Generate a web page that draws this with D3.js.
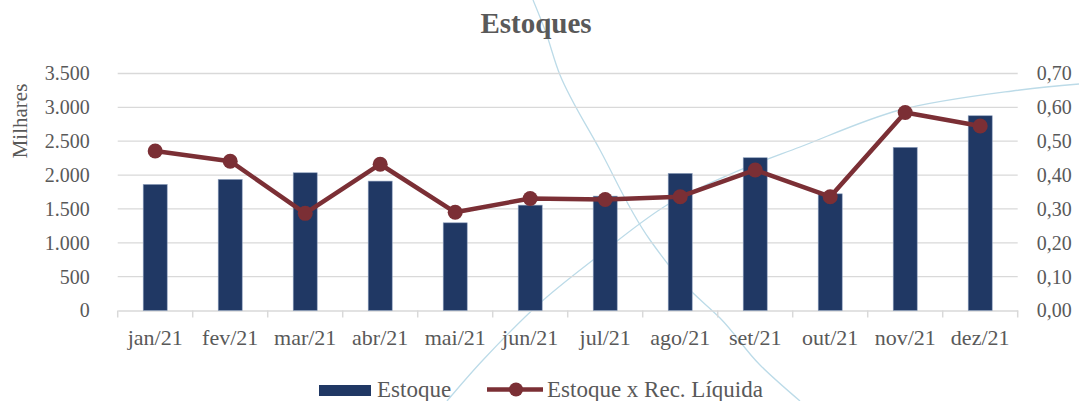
<!DOCTYPE html>
<html>
<head>
<meta charset="utf-8">
<script src="https://cdn.jsdelivr.net/npm/d3@7/dist/d3.min.js"></script>
<style>
  html, body { margin: 0; padding: 0; background: #ffffff; }
  svg { display: block; }
  text { font-family: "Liberation Serif", "DejaVu Serif", serif; fill: #595959; }
</style>
</head>
<body>
<svg id="chart" width="1079" height="401"></svg>
<script>
const categories = ["jan/21","fev/21","mar/21","abr/21","mai/21","jun/21","jul/21","ago/21","set/21","out/21","nov/21","dez/21"];
const estoque = [1862, 1936, 2034, 1911, 1295, 1556, 1689, 2025, 2256, 1723, 2409, 2876];
const ratio = [0.471, 0.441, 0.287, 0.432, 0.290, 0.331, 0.328, 0.336, 0.415, 0.336, 0.585, 0.545];
const leftTicks = [0, 500, 1000, 1500, 2000, 2500, 3000, 3500];
const rightTicks = [0, 0.1, 0.2, 0.3, 0.4, 0.5, 0.6, 0.7];
const seriesNames = ["Estoque", "Estoque x Rec. Líquida"];
const titleText = "Estoques";
const yAxisTitle = "Milhares";

// decorative background arcs (slide decoration)
const decoArcA = [[533,0],[545,30],[560,75],[600,150],[650,240],[690,290],[720,318],[760,365],[800,401]];
const decoArcB = [[447,401],[483,360],[540,303],[593,260],[667,205],[733,173],[800,147],[900,110],[1020,90],[1079,84]];

const FONT = "'Liberation Serif', 'DejaVu Serif', serif";
const svg = d3.select("#chart");
const plot = { left: 117.7, right: 1017.7, top: 73.5, bottom: 310.5 };

const loc = d3.formatLocale({ decimal: ",", thousands: ".", grouping: [3], currency: ["R$", ""] });
const fmtL = loc.format(",.0f");
const fmtR = loc.format(".2f");

const x = d3.scaleBand().domain(categories).range([plot.left, plot.right]).paddingInner(0.68).paddingOuter(0.34);
const yL = d3.scaleLinear().domain([0, 3500]).range([plot.bottom, plot.top]);
const yR = d3.scaleLinear().domain([0, 0.7]).range([plot.bottom, plot.top]);

// decorations
const deco = d3.line().curve(d3.curveMonotoneY);
svg.append("g").selectAll("path").data([decoArcA]).join("path")
  .attr("d", deco).attr("fill", "none").attr("stroke", "#bcdbe8").attr("stroke-width", 1.3);
svg.append("g").selectAll("path").data([decoArcB]).join("path")
  .attr("d", d3.line().curve(d3.curveCatmullRom)).attr("fill", "none").attr("stroke", "#bcdbe8").attr("stroke-width", 1.3);

// gridlines
svg.append("g").selectAll("line").data(leftTicks.slice(1)).join("line")
  .attr("x1", plot.left).attr("x2", plot.right)
  .attr("y1", d => yL(d)).attr("y2", d => yL(d))
  .attr("stroke", "#d9d9d9").attr("stroke-width", 1.3);

// left axis
const gL = svg.append("g").attr("transform", `translate(${plot.left},0)`)
  .call(d3.axisLeft(yL).tickValues(leftTicks).tickFormat(fmtL).tickSize(0).tickPadding(28));
gL.attr("font-family", FONT);
gL.select(".domain").remove();
gL.selectAll("text").attr("font-size", 20).attr("font-family", FONT).attr("fill", "#595959");

// right axis
const gR = svg.append("g").attr("transform", `translate(${plot.right},0)`)
  .call(d3.axisRight(yR).tickValues(rightTicks).tickFormat(fmtR).tickSize(0).tickPadding(19));
gR.attr("font-family", FONT);
gR.select(".domain").remove();
gR.selectAll("text").attr("font-size", 20).attr("font-family", FONT).attr("fill", "#595959");

// x axis
const gX = svg.append("g").attr("transform", `translate(0,${plot.bottom})`)
  .call(d3.axisBottom(x).tickSize(0).tickPadding(19));
gX.attr("font-family", FONT);
gX.select(".domain").attr("stroke", "#d9d9d9").attr("stroke-width", 1.5);
gX.selectAll("text").attr("font-size", 22).attr("font-family", FONT).attr("fill", "#595959");
const bounds = categories.map(c => x(c) - x.step() * x.paddingInner() / 2).concat([plot.right]);
svg.append("g").selectAll("line").data(bounds).join("line")
  .attr("x1", d => d).attr("x2", d => d).attr("y1", plot.bottom).attr("y2", plot.bottom + 7)
  .attr("stroke", "#d9d9d9").attr("stroke-width", 1.5);

// bars
svg.append("g").selectAll("rect").data(estoque).join("rect")
  .attr("x", (d, i) => x(categories[i])).attr("width", x.bandwidth())
  .attr("y", d => yL(d)).attr("height", d => yL(0) - yL(d))
  .attr("fill", "#203864").attr("stroke", "#8ea0bd").attr("stroke-width", 0.6);

// line
const cx = i => x(categories[i]) + x.bandwidth() / 2;
svg.append("path").datum(ratio)
  .attr("d", d3.line().x((d, i) => cx(i)).y(d => yR(d)))
  .attr("fill", "none").attr("stroke", "#7b2f35").attr("stroke-width", 4.5).attr("stroke-linejoin", "round");
svg.append("g").selectAll("circle").data(ratio).join("circle")
  .attr("cx", (d, i) => cx(i)).attr("cy", d => yR(d)).attr("r", 7.5).attr("fill", "#7b2f35");

// title
svg.append("text").attr("x", 536).attr("y", 33).attr("text-anchor", "middle").attr("font-family", FONT)
  .attr("font-size", 29).attr("font-weight", "bold").text(titleText);

// y axis title
svg.append("text").attr("transform", "translate(27,121) rotate(-90)").attr("text-anchor", "middle")
  .attr("font-family", FONT).attr("font-size", 21).text(yAxisTitle);

// legend
const lg = svg.append("g").attr("font-family", FONT);
lg.append("rect").attr("x", 319).attr("y", 385).attr("width", 52).attr("height", 11).attr("fill", "#203864");
lg.append("text").attr("x", 377).attr("y", 397).attr("font-size", 23).text(seriesNames[0]);
lg.append("line").attr("x1", 487).attr("x2", 543).attr("y1", 389.5).attr("y2", 389.5)
  .attr("stroke", "#7b2f35").attr("stroke-width", 4.5);
lg.append("circle").attr("cx", 516).attr("cy", 389.5).attr("r", 7).attr("fill", "#7b2f35");
lg.append("text").attr("x", 547).attr("y", 397).attr("font-size", 23).text(seriesNames[1]);
</script>
</body>
</html>
